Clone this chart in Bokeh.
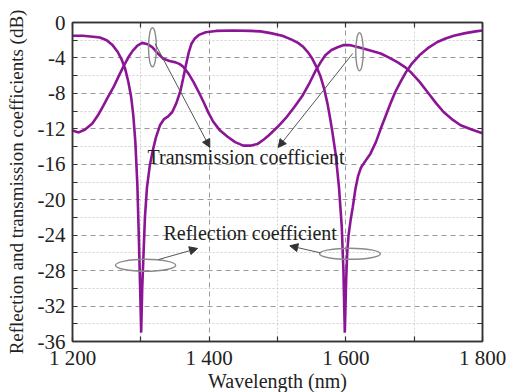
from bokeh.plotting import figure
from bokeh.models import FixedTicker, LinearAxis, Range1d, Arrow, NormalHead, Label
from bokeh.embed import file_html
from bokeh.resources import INLINE

# ---- data ----
refl_wl = [1200, 1215, 1230, 1240, 1250, 1258, 1266, 1272, 1277, 1282, 1286, 1289, 1292, 1295,
           1297, 1299, 1300.5, 1302, 1304, 1306, 1309, 1313, 1317, 1322, 1328, 1334, 1340, 1346,
           1352, 1358, 1362, 1366, 1370, 1374, 1379, 1385, 1395, 1410, 1436, 1460, 1475, 1490,
           1507, 1520, 1530, 1537, 1545, 1551, 1557, 1563, 1568, 1573, 1577, 1580, 1585, 1590,
           1594, 1596.5, 1598.5, 1600.5, 1602, 1604, 1607, 1610, 1614, 1618, 1622, 1628, 1636,
           1644, 1651, 1658, 1665, 1672, 1680, 1688, 1697, 1709, 1720, 1734, 1746, 1758, 1775,
           1790, 1800]
refl_db = [-1.5, -1.5, -1.6, -1.7, -2.0, -2.5, -3.3, -4.2, -5.2, -6.8, -8.5, -10.5, -13.5, -18.5,
           -24, -30, -35, -30, -26, -22, -18.6, -16.2, -14.6, -13.0, -11.6, -10.9, -10.6, -10.1,
           -9.1, -7.7, -6.3, -4.8, -3.4, -2.4, -1.8, -1.4, -1.1, -0.95, -0.9, -0.95, -1.0, -1.2,
           -1.5, -1.9, -2.3, -2.7, -3.4, -4.1, -5.0, -6.1, -7.4, -9.1, -10.8, -12.2, -14.8, -18.6,
           -23, -28, -35, -29, -26, -24, -22.3, -20.9, -18.8, -17.3, -16.4, -15.7, -14.8,
           -13.5, -12.0, -10.6, -9.2, -7.9, -6.7, -5.6, -4.6, -3.6, -2.9, -2.2, -1.8, -1.5, -1.2,
           -1.0, -0.9]

trans_wl = [1200, 1209, 1218, 1229, 1237, 1245, 1252, 1260, 1268, 1275, 1282, 1288, 1295, 1302,
            1310, 1317, 1325, 1333, 1342, 1351, 1357, 1362, 1370, 1377, 1385, 1392, 1399, 1406,
            1416, 1427, 1438, 1450, 1460, 1471, 1480, 1487, 1500, 1512, 1525, 1537, 1547, 1556,
            1563, 1570, 1579, 1588, 1597, 1605, 1614, 1624, 1637, 1651, 1664, 1676, 1686, 1695,
            1708, 1720, 1732, 1743, 1755, 1768, 1785, 1800]
trans_db = [-12.2, -12.4, -12.1, -11.4, -10.5, -9.4, -8.4, -7.3, -6.0, -4.9, -3.9, -3.2, -2.6, -2.3,
            -2.45, -2.8, -3.5, -4.1, -4.35, -4.5, -4.7, -5.0, -5.8, -6.7, -7.9, -9.0, -10.2, -11.2,
            -12.2, -12.9, -13.5, -13.9, -13.9, -13.7, -13.2, -12.75, -11.8, -10.8, -9.5, -8.2, -6.8, -5.4,
            -4.5, -3.7, -3.1, -2.8, -2.55, -2.55, -2.7, -2.9, -3.2, -3.5, -4.0, -4.5, -5.0, -5.6,
            -6.7, -7.9, -9.1, -10.1, -10.9, -11.6, -12.1, -12.5]

x_ticks = [1200, 1400, 1600, 1800]
x_minor = [1300, 1500, 1700]
x_labels = ["1 200", "1 400", "1 600", "1 800"]
y_ticks = [0, -4, -8, -12, -16, -20, -24, -28, -32, -36]
y_minor = [-2, -6, -10, -14, -18, -22, -26, -30, -34]

SERIF = "Liberation Serif"
PURPLE = "#8c1596"
FRAME = "#333333"

p = figure(frame_width=410, frame_height=319, output_backend="svg", toolbar_location=None,
           x_range=Range1d(1200, 1800), y_range=Range1d(-36, 0),
           min_border_left=72, min_border_right=36, min_border_top=22, min_border_bottom=48)
p.background_fill_color = "white"
p.border_fill_color = "white"
p.outline_line_color = FRAME
p.outline_line_width = 1.5

xt = FixedTicker(ticks=x_ticks, minor_ticks=x_minor)
yt = FixedTicker(ticks=y_ticks, minor_ticks=y_minor)


def style_axis(ax, labels=True):
    ax.axis_line_color = FRAME
    ax.axis_line_width = 1.5
    ax.major_tick_line_color = FRAME
    ax.minor_tick_line_color = FRAME
    ax.major_tick_line_width = 1.2
    ax.minor_tick_line_width = 1.2
    ax.major_tick_in = 5
    ax.major_tick_out = 0
    ax.minor_tick_in = 5
    ax.minor_tick_out = 0
    if labels:
        ax.major_label_text_font = SERIF
        ax.major_label_text_font_size = "21px"
        ax.major_label_text_color = "#222222"
        ax.axis_label_text_font = SERIF
        ax.axis_label_text_font_style = "normal"
        ax.axis_label_text_color = "#222222"
    else:
        ax.major_label_text_font_size = "1px"
        ax.major_label_text_color = None
        ax.major_label_standoff = 0


xa = p.xaxis[0]
xa.ticker = xt
style_axis(xa)
xa.major_label_overrides = {t: l for t, l in zip(x_ticks, x_labels)}
xa.axis_label = "Wavelength (nm)"
xa.axis_label_text_font_size = "20px"
xa.major_label_standoff = 4
xa.axis_label_standoff = -3

ya = p.yaxis[0]
ya.ticker = yt
style_axis(ya)
ya.major_label_overrides = {t: str(t) for t in y_ticks}
ya.axis_label = "Reflection and transmission coefficients (dB)"
ya.axis_label_text_font_size = "19px"
ya.major_label_standoff = 7
ya.axis_label_standoff = 8

top = LinearAxis(ticker=xt)
style_axis(top, labels=False)
p.add_layout(top, "above")
right = LinearAxis(ticker=yt)
style_axis(right, labels=False)
p.add_layout(right, "right")

for g in (p.xgrid[0], p.ygrid[0]):
    g.grid_line_color = "#9a9a9a"
    g.grid_line_dash = "5 4"
    g.grid_line_width = 1
    g.minor_grid_line_color = "#d0d0d0"
    g.minor_grid_line_dash = "2 2"
    g.minor_grid_line_width = 1
p.xgrid[0].ticker = xt
p.ygrid[0].ticker = yt

# curves
p.line(refl_wl, refl_db, line_color=PURPLE, line_width=2.6)
p.line(trans_wl, trans_db, line_color=PURPLE, line_width=2.6)

# annotation ellipses
p.ellipse(x=[1317, 1620, 1307, 1606], y=[-2.8, -3.3, -27.4, -26.1],
          width=[11.5, 11, 88, 89], height=[4.4, 4.3, 1.35, 1.25],
          fill_color=None, line_color="#8a8a8a", line_width=1.4)

# arrows
for (x0, y0, x1, y1) in [(1321, -2.4, 1401, -14.1), (1610, -3.5, 1501, -14.1),
                         (1326, -26.75, 1383, -25.5), (1563, -26.0, 1518, -25.2)]:
    p.add_layout(Arrow(end=NormalHead(size=8, fill_color="#333333", line_color="#333333"),
                       x_start=x0, y_start=y0, x_end=x1, y_end=y1,
                       line_color="#555555", line_width=1))

p.add_layout(Label(x=1454, y=-15.2, text="Transmission coefficient", text_align="center",
                   text_baseline="middle", text_font=SERIF, text_font_size="20px",
                   text_color="#222222"))
p.add_layout(Label(x=1460, y=-23.7, text="Reflection coefficient", text_align="center",
                   text_baseline="middle", text_font=SERIF, text_font_size="20px",
                   text_color="#222222"))

open("out.html", "w").write(file_html(p, INLINE))
